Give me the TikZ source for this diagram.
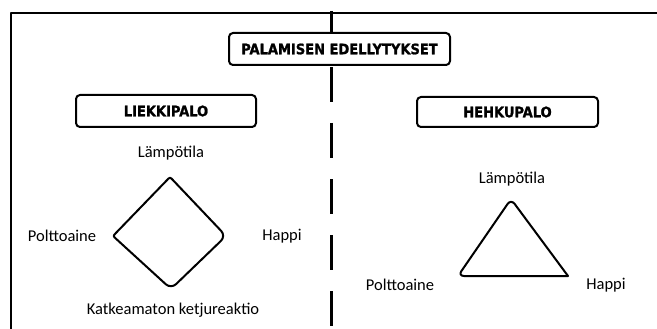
\documentclass[tikz,border=0pt]{standalone}
\usepackage{fontspec}
\setmainfont{Carlito}
\newfontfamily\headfont{DejaVu Sans Condensed}[BoldFeatures={FakeBold=1.2}]
\tikzset{
  frameline/.style={line width=2pt, line cap=round, line join=round},
  headbox/.style={draw, line width=2pt, fill=white, rounded corners=4pt, inner sep=0pt,
    font=\headfont\bfseries\fontsize{14.5}{16}\selectfont},
  lbl/.style={inner sep=0pt, font=\fontsize{16.5}{19}\selectfont},
  divider/.style={line width=2.1pt, dash pattern=on 35pt off 21pt},
  shapeline/.style={line width=2pt, line join=round}
}
\begin{document}
\begin{tikzpicture}[x=1pt,y=-1pt]
\useasboundingbox (0,0) rectangle (657,329);
% outer frame
\coordinate (fbl) at (10.7,335);
\coordinate (ftl) at (10.7,12.7);
\coordinate (ftr) at (665,12.7);
\draw[frameline] (fbl) -- (ftl) -- (ftr);
% divider
\coordinate (dtop) at (331.5,11);
\coordinate (dbot) at (331.5,340);
\draw[divider] (dtop) -- (dbot);
% headings
\node[headbox, minimum width=221pt, minimum height=32pt] (title) at (339.5,49) {PALAMISEN EDELLYTYKSET};
\node[headbox, minimum width=180pt, minimum height=32pt] (liekki) at (166,111) {LIEKKIPALO};
\node[headbox, minimum width=181pt, minimum height=30pt] (hehku) at (507.5,112) {HEHKUPALO};
% left: diamond
\node[lbl] (lt) at (171,153) {Lämpötila};
\node[lbl] (lp) at (62,236) {Polttoaine};
\node[lbl] (lh) at (282,236) {Happi};
\node[lbl] (lk) at (173,310) {Katkeamaton ketjureaktio};
\coordinate (dT) at (170,177);
\coordinate (dL) at (113,236);
\coordinate (dR) at (226,236);
\coordinate (dB) at (171,289);
\draw[shapeline] (dL) [rounded corners=2pt] -- (dT) [rounded corners=7pt] -- (dR) -- (dB) [rounded corners=2pt] -- cycle;
% right: triangle
\node[lbl] (rt) at (512,179) {Lämpötila};
\node[lbl] (rp) at (400,285) {Polttoaine};
\node[lbl] (rh) at (606,285) {Happi};
\coordinate (tT) at (511,199);
\coordinate (tL) at (458,276);
\coordinate (tR) at (568,276);
\draw[shapeline] (tR) [rounded corners=6pt] -- (tT) -- (tL) [sharp corners] -- cycle;
\end{tikzpicture}
\end{document}
